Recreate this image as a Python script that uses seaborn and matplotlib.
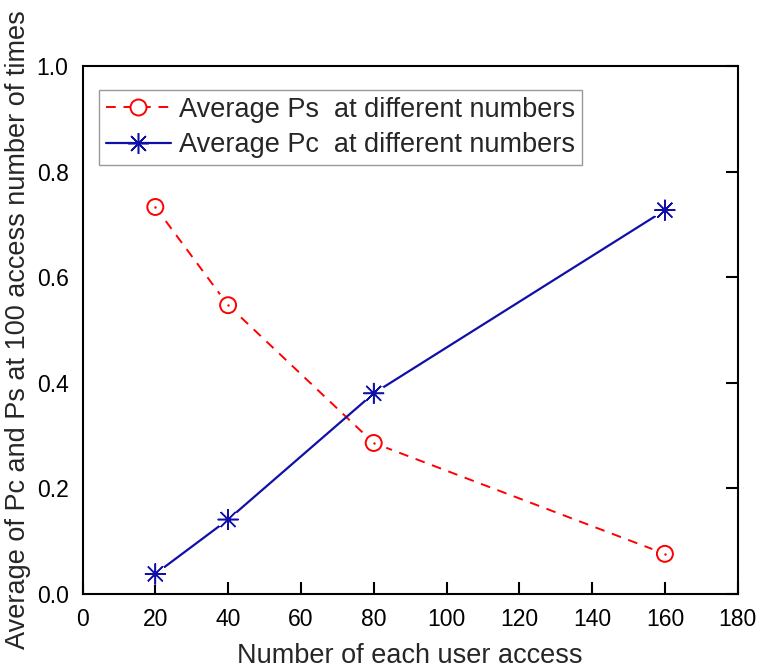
import numpy as np
import pandas as pd
import matplotlib
matplotlib.use("Agg")
import matplotlib.pyplot as plt
import matplotlib.patheffects as pe
from matplotlib.lines import Line2D
import seaborn as sns

# data
access_counts = [20, 40, 80, 160]
avg_ps = [0.733, 0.547, 0.286, 0.076]
avg_pc = [0.038, 0.141, 0.380, 0.727]

PS_LABEL = "Average Ps  at different numbers"
PC_LABEL = "Average Pc  at different numbers"
RED = "#FF0000"
BLUE = "#1010A8"
ASTERISK = (8, 2, 0)

sns.set_theme(style="white")
plt.rcParams["font.family"] = ["Liberation Sans", "DejaVu Sans"]

df = pd.DataFrame({"access": access_counts, "ps": avg_ps, "pc": avg_pc})

fig = plt.figure(figsize=(7.57, 6.71), dpi=100)
ax = fig.add_axes([0.109, 0.1148, 0.8655, 0.7868])

halo = [pe.Stroke(linewidth=8, foreground="white"), pe.Normal()]

# lines
sns.lineplot(data=df, x="access", y="ps", ax=ax, color=RED, lw=1.4,
             linestyle=(0, (5, 4)), legend=False)
sns.lineplot(data=df, x="access", y="pc", ax=ax, color=BLUE, lw=1.6,
             legend=False)

# markers with white halo so lines stop short of them
ax.plot(df["access"], df["ps"], ls="none", marker="o", ms=11.5, mfc="white",
        mec=RED, mew=1.4, path_effects=halo, zorder=3)
ax.plot(df["access"], df["ps"], ls="none", marker=".", ms=1.5, color=RED, zorder=4)
ax.plot(df["access"], df["pc"], ls="none", marker=ASTERISK, ms=15, mec=BLUE,
        mew=1.1, path_effects=halo, zorder=3)
ax.plot(df["access"], df["pc"], ls="none", marker=".", ms=4, color=BLUE, zorder=4)

ax.set_xlim(0, 180)
ax.set_ylim(0, 1.0)
ax.set_xticks(np.arange(0, 181, 20))
ax.set_yticks(np.arange(0, 1.01, 0.2))
ax.set_yticklabels([f"{v:.1f}" for v in np.arange(0, 1.01, 0.2)])

for s in ax.spines.values():
    s.set_color("black")
    s.set_linewidth(1.5)
ax.tick_params(axis="both", which="both", direction="in", length=9, width=1.5,
               labelsize=16.5, colors="black", pad=10)
ax.tick_params(axis="y", right=True)
ax.tick_params(axis="x", bottom=True)

ax.set_xlabel("Number of each user access", fontsize=19.5, labelpad=9)
ax.set_ylabel("Average of Pc and Ps at 100 access number of times", fontsize=19.5, labelpad=4)

handles = [
    Line2D([], [], color=RED, lw=1.4, linestyle=(0, (5, 4)), marker="o", ms=11.5,
           mfc="white", mec=RED, mew=1.4),
    Line2D([], [], color=BLUE, lw=1.6, marker=ASTERISK, ms=15, mec=BLUE, mew=1.1),
]
leg = ax.legend(handles, [PS_LABEL, PC_LABEL], loc="upper left",
                bbox_to_anchor=(0.025, 0.955), fontsize=19.5, frameon=True,
                fancybox=False, edgecolor="#808080", handlelength=2.4,
                handletextpad=0.3, borderpad=0.25, labelspacing=0.35,
                borderaxespad=0)
leg.get_frame().set_linewidth(1.0)

fig.savefig("out.png", dpi=100)
